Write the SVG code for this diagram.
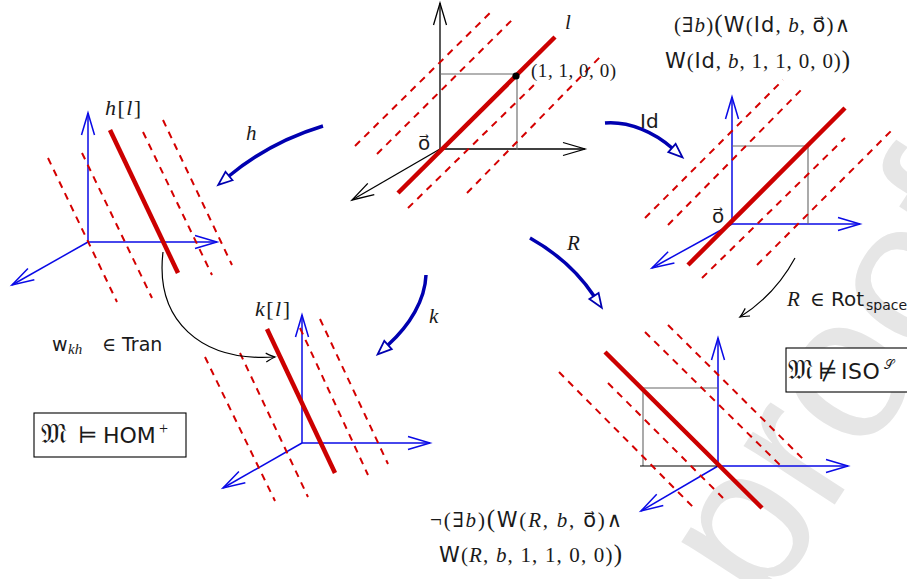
<svg xmlns="http://www.w3.org/2000/svg" width="907" height="579" viewBox="0 0 907 579">
<style>
.ax{stroke:#000;stroke-width:1.3;fill:none}
.axb{stroke:#0a0ae6;stroke-width:1.5;fill:none}
.ds{stroke:#d40000;stroke-width:2;stroke-dasharray:7 6;fill:none}
.rd{stroke:#cc0000;stroke-width:4.5;fill:none}
.bx{stroke:#666;stroke-width:1.1;fill:none}
.cv{stroke:#0000b0;stroke-width:3.5;fill:none}
.th{stroke:#000;stroke-width:1.2;fill:none}
text{fill:#1a1a1a}
.m{font-family:"Liberation Serif","DejaVu Serif",serif}
.i{font-style:italic}
.s{font-family:"DejaVu Sans","Liberation Sans",sans-serif}
.f{font-family:"DejaVu Sans","DejaVu Serif","Noto Sans",serif}
</style>
<defs>
<marker id="vk" markerUnits="userSpaceOnUse" markerWidth="30" markerHeight="20" viewBox="-25 -10 30 20" refX="0" refY="0" orient="auto" overflow="visible"><path d="M-22,-6.5 L0,0 L-22,6.5" fill="none" stroke="#000" stroke-width="1.3"/></marker>
<marker id="vb" markerUnits="userSpaceOnUse" markerWidth="30" markerHeight="20" viewBox="-25 -10 30 20" refX="0" refY="0" orient="auto" overflow="visible"><path d="M-22,-6.5 L0,0 L-22,6.5" fill="none" stroke="#0a0ae6" stroke-width="1.5"/></marker>
<marker id="ot" markerUnits="userSpaceOnUse" markerWidth="20" markerHeight="16" viewBox="-2 -8 20 16" refX="0" refY="0" orient="auto" overflow="visible"><path d="M0,-5.5 L14,0 L0,5.5 Z" fill="#fff" stroke="#0000b0" stroke-width="1.8"/></marker>
<marker id="tk" markerUnits="userSpaceOnUse" markerWidth="14" markerHeight="12" viewBox="-12 -6 14 12" refX="0" refY="0" orient="auto" overflow="visible"><path d="M-9,-4.5 Q-3,-1 0,0 Q-3,1 -9,4.5" fill="none" stroke="#000" stroke-width="1.2"/></marker>
</defs>

<text x="765" y="612" transform="rotate(-57 765 612)" style="font-family:'Liberation Sans',sans-serif;font-size:205px;fill:#e6e6e6">proof</text>

<g id="frame-l">
<path class="ax" d="M440,149 L440,3" marker-end="url(#vk)"/>
<path class="ax" d="M440,149 L585,149" marker-end="url(#vk)"/>
<path class="ax" d="M440,149 L352,200" marker-end="url(#vk)"/>
<path class="bx" d="M440,74 H517 V150"/>
<path class="ds" d="M355,146 L493,10 M377,154 L515,17 M408,208 L537,82 M467,193 L600,57"/>
<path class="rd" d="M398,193 L555,37"/>
<circle cx="516" cy="76" r="3.6" fill="#000"/>
<text class="s" x="418" y="150" font-size="20">o&#x20D7;</text>
<text class="m i" x="565" y="29" font-size="21">l</text>
<text class="m" x="531" y="77" font-size="19" textLength="85" lengthAdjust="spacing">(1, 1, 0, 0)</text>
</g>

<g id="frame-id">
<path class="axb" d="M732,224 L732,97" marker-end="url(#vb)"/>
<path class="axb" d="M732,224 L860,224" marker-end="url(#vb)"/>
<path class="axb" d="M732,224 L652,268" marker-end="url(#vb)"/>
<path class="bx" d="M732,146 H808 V224"/>
<path class="ds" d="M645,218 L783,80 M668,225 L803,88 M702,278 L845,138 M757,265 L892,130"/>
<path class="rd" d="M688,265 L845,108"/>
<text class="s" x="712" y="223" font-size="20">o&#x20D7;</text>
<text x="674" y="32" font-size="21" textLength="176" lengthAdjust="spacing"><tspan class="m">(∃</tspan><tspan class="m i">b</tspan><tspan class="m">)</tspan><tspan class="m" font-size="25">(</tspan><tspan class="s">W</tspan><tspan class="m">(</tspan><tspan class="s">Id</tspan><tspan class="m">, </tspan><tspan class="m i">b</tspan><tspan class="m">, </tspan><tspan class="s">o&#x20D7;</tspan><tspan class="m">)∧</tspan></text>
<text x="665" y="68" font-size="21" textLength="185" lengthAdjust="spacing"><tspan class="s">W</tspan><tspan class="m">(</tspan><tspan class="s">Id</tspan><tspan class="m">, </tspan><tspan class="m i">b</tspan><tspan class="m">, 1, 1, 0, 0)</tspan><tspan class="m" font-size="25">)</tspan></text>
</g>

<g id="frame-h">
<path class="axb" d="M88,242 L88,113" marker-end="url(#vb)"/>
<path class="axb" d="M88,242 L217,242" marker-end="url(#vb)"/>
<path class="axb" d="M88,242 L12,285" marker-end="url(#vb)"/>
<path class="ds" d="M48,158 L117,302 M82,153 L152,298 M143,132 L212,275 M163,120 L232,265"/>
<path class="rd" d="M110,130 L178,273"/>
<text class="m" x="105" y="115" font-size="22" textLength="36" lengthAdjust="spacing"><tspan class="i">h</tspan>[<tspan class="i">l</tspan>]</text>
</g>

<g id="frame-k">
<path class="axb" d="M302,443 L302,315" marker-end="url(#vb)"/>
<path class="axb" d="M302,443 L430,443" marker-end="url(#vb)"/>
<path class="axb" d="M302,443 L223,488" marker-end="url(#vb)"/>
<path class="ds" d="M205,357 L275,501 M240,353 L308,497 M300,328 L368,475 M320,319 L388,464"/>
<path class="rd" d="M267,329 L335,473"/>
<text class="m" x="255" y="316" font-size="22" textLength="35" lengthAdjust="spacing"><tspan class="i">k</tspan>[<tspan class="i">l</tspan>]</text>
</g>

<g id="frame-r">
<path class="axb" d="M718,466 L718,338" marker-end="url(#vb)"/>
<path class="axb" d="M718,466 L848,466" marker-end="url(#vb)"/>
<path class="axb" d="M718,466 L641,511" marker-end="url(#vb)"/>
<path class="bx" d="M718,388 H643 V466"/>
<path d="M640,466 H718" stroke="#000" stroke-width="1.2"/>
<path class="ds" d="M645,332 L782,467 M668,325 L805,461 M559,372 L693,507 M608,383 L723,498"/>
<path class="rd" d="M605,352 L762,508"/>
<text x="430" y="527" font-size="21" textLength="192" lengthAdjust="spacing"><tspan class="m">¬(∃</tspan><tspan class="m i">b</tspan><tspan class="m">)</tspan><tspan class="m" font-size="25">(</tspan><tspan class="s">W</tspan><tspan class="m">(</tspan><tspan class="m i">R</tspan><tspan class="m">, </tspan><tspan class="m i">b</tspan><tspan class="m">, </tspan><tspan class="s">o&#x20D7;</tspan><tspan class="m">)∧</tspan></text>
<text x="439" y="562" font-size="21" textLength="183" lengthAdjust="spacing"><tspan class="s">W</tspan><tspan class="m">(</tspan><tspan class="m i">R</tspan><tspan class="m">, </tspan><tspan class="m i">b</tspan><tspan class="m">, 1, 1, 0, 0)</tspan><tspan class="m" font-size="25">)</tspan></text>
</g>

<g id="box-hom">
<rect x="34" y="413" width="152" height="44" fill="#fff" stroke="#000" stroke-width="1.1"/>
<text y="443" font-size="22"><tspan class="f" x="41" font-size="28">𝔐</tspan><tspan class="m" x="78" font-size="23">⊨</tspan><tspan class="s" x="103">HOM</tspan><tspan class="m" x="159" font-size="16" dy="-9">+</tspan></text>
</g>

<g id="box-iso">
<rect x="786" y="348" width="130" height="44" fill="#fff" stroke="#000" stroke-width="1.1"/>
<text y="379" font-size="22"><tspan class="f" x="788" font-size="27">𝔐</tspan><tspan class="m" x="818" font-size="23">⊭</tspan><tspan class="s" x="841" letter-spacing="0.5">ISO</tspan><tspan class="f" x="884" font-size="13" dy="-10">𝒮</tspan></text>
</g>

<g id="connectors">
<path class="cv" d="M323,126 C290,136 258,152 229,176" marker-end="url(#ot)"/>
<text class="m i" x="246" y="140" font-size="21">h</text>
<path class="cv" d="M605,123 C630,121 655,133 672,148" marker-end="url(#ot)"/>
<text class="s" x="640" y="128" font-size="20">Id</text>
<path class="cv" d="M530,238 C555,252 578,272 594,296" marker-end="url(#ot)"/>
<text class="m i" x="567" y="250" font-size="21">R</text>
<path class="cv" d="M426,275 C425,300 410,325 388,345" marker-end="url(#ot)"/>
<text class="m i" x="429" y="323" font-size="21">k</text>
<path class="th" d="M795,258 Q775,295 740,317" marker-end="url(#tk)"/>
<text y="306" font-size="20"><tspan class="m i" x="787" font-size="21">R</tspan><tspan class="m" x="810">∈</tspan><tspan class="s" x="831">Rot</tspan><tspan class="s" x="866" font-size="14" dy="4">space</tspan></text>
<path class="th" d="M163,252 C155,320 200,362 275,357" marker-end="url(#tk)"/>
<text y="351" font-size="19"><tspan class="s" x="52">w</tspan><tspan class="m i" x="68" font-size="15" dy="3">kh</tspan><tspan class="m" x="102" dy="-3">∈</tspan><tspan class="s" x="122">Tran</tspan></text>
</g>
</svg>
